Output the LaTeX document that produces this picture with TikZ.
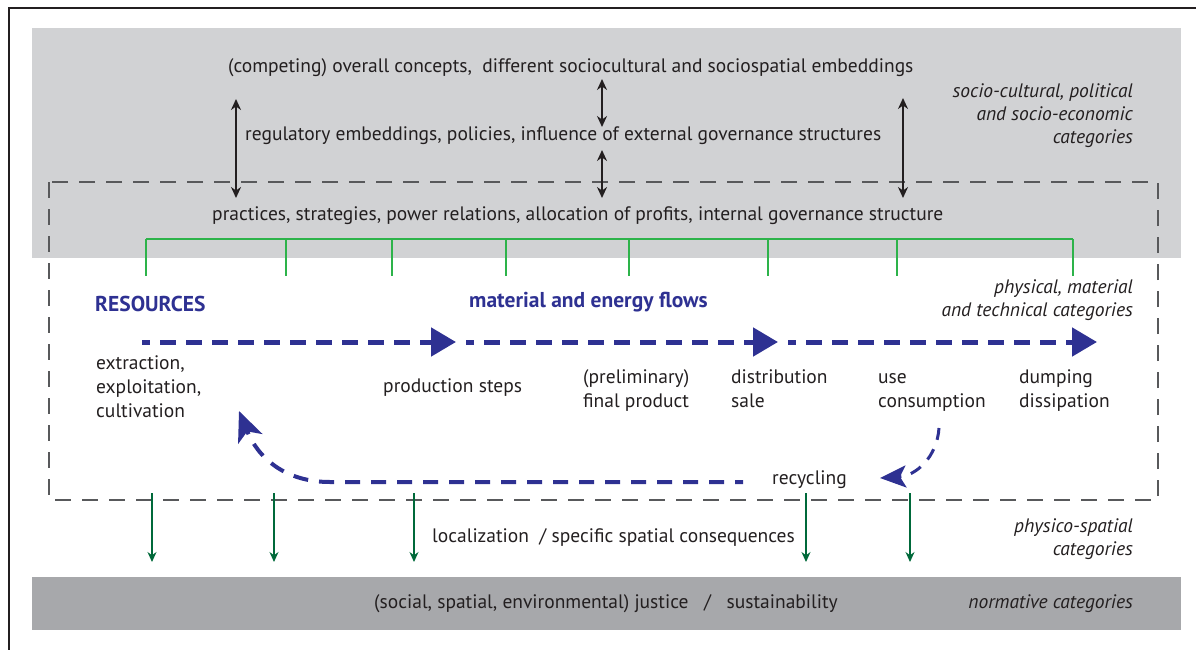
\documentclass[tikz,border=0pt]{standalone}
\usepackage{fontspec}
\setmainfont{PT Sans}
\usetikzlibrary{arrows.meta, positioning, calc}
\definecolor{bandtop}{HTML}{D1D2D4}
\definecolor{bandbot}{HTML}{A7A8AB}
\definecolor{flowblue}{HTML}{2E3192}
\definecolor{treegreen}{HTML}{2DB34A}
\definecolor{downgreen}{HTML}{00693A}
\definecolor{boxgray}{HTML}{58595B}
\definecolor{ink}{HTML}{231F20}

\begin{document}
\begin{tikzpicture}[x=1pt, y=-1pt, >=Stealth,
    every node/.style={inner sep=0pt, text=ink, font=\fontsize{19.5}{24}\selectfont},
    cat/.style={anchor=base east, align=right, font=\fontsize{19.5}{23}\selectfont\itshape},
    stage/.style={anchor=base west, align=left},
    head/.style={anchor=base west, text=flowblue, font=\fontsize{21.5}{24}\selectfont\bfseries},
    dblarrow/.style={line width=2.2pt, ink, {Stealth[length=11pt,width=10pt]}-{Stealth[length=11pt,width=10pt]}},
    flowline/.style={flowblue, line width=5pt, dash pattern=on 16pt off 10pt, dash phase=8pt, -{Triangle[length=25pt,width=28pt]}},
    backline/.style={flowblue, line width=4pt, dash pattern=on 15pt off 11pt, dash phase=7pt, -{Stealth[length=30pt,width=26pt,inset=8pt]}},
    ticklines/.style={treegreen, line width=1.2pt},
    downarrow/.style={downgreen, line width=1.2pt, -{Stealth[length=10pt,width=9pt]}},
  ]
    \useasboundingbox (0,0) rectangle (1196,650);

    % Bands and frame
    \fill[bandtop] (32,28) rectangle (1181,258);
    \fill[bandbot] (32,577) rectangle (1181,630);
    \draw[ink, line width=1.2pt] (9,650) -- (9,8) -- (1200,8);
    \draw[boxgray, line width=2.2pt, dash pattern=on 16pt off 11pt] (49,182) rectangle (1158,500);

    % Upper texts
    \node[stage] (concepts) at (228,73) {(competing) overall concepts,\ \ different sociocultural and sociospatial embeddings};
    \node[stage] (regul) at (245,141) {regulatory embeddings, policies, influence of external governance structures};
    \node[stage] (practices) at (212,220) {practices, strategies, power relations, allocation of profits, internal governance structure};
    \node[cat] (sociocat) at (1133,143) {socio-cultural, political\\and socio-economic\\categories};

    % Double arrows
    \coordinate (la1) at (236,99);  \coordinate (la2) at (236,198);
    \coordinate (ma1) at (602,79);  \coordinate (ma2) at (602,127);
    \coordinate (mb1) at (602,150); \coordinate (mb2) at (602,198);
    \coordinate (ra1) at (903,98);  \coordinate (ra2) at (903,198);
    \draw[dblarrow] (la1) -- (la2);
    \draw[dblarrow] (ma1) -- (ma2);
    \draw[dblarrow] (mb1) -- (mb2);
    \draw[dblarrow] (ra1) -- (ra2);

    % Green bracket
    \draw[ticklines] (146,239) -- (1073,239);
    \foreach \x in {146,286,392,506,629,768,897,1073}
        \draw[ticklines] (\x,239) -- (\x,276);

    % Flow headings
    \node[head] (resources) at (95,311) {RESOURCES};
    \node[head] (flows) at (469,307) {material and energy flows};
    \node[cat] (physcat) at (1133,316) {physical, material\\and technical categories};

    % Flow line
    \coordinate (f0) at (142,342);
    \coordinate (f1) at (456,342);
    \coordinate (f2) at (466,342);
    \coordinate (f3) at (778,342);
    \coordinate (f4) at (788,342);
    \coordinate (f5) at (1097,342);
    \draw[flowline] (f0) -- (f1);
    \draw[flowline] (f2) -- (f3);
    \draw[flowline] (f4) -- (f5);

    % Stages
    \node[stage] (extract) at (96,417) {extraction,\\exploitation,\\cultivation};
    \node[stage] (prod) at (383,392) {production steps};
    \node[stage] (final) at (583,407) {(preliminary)\\final product};
    \node[stage] (distrib) at (731,407) {distribution\\sale};
    \node[stage] (use) at (878,407) {use\\consumption};
    \node[stage] (dump) at (1019,407) {dumping\\dissipation};
    \node[stage] (recyc) at (772,484) {recycling};

    % Recycling loop
    \coordinate (u0) at (939,428);
    \coordinate (u1) at (880,478);
    \draw[flowblue, line width=3pt, dash pattern=on 12pt off 10pt, -{Stealth[length=26pt,width=22pt,inset=6pt]}]
        (u0) .. controls (937,458) and (915,476) .. (u1);
    \coordinate (b0) at (743,482);
    \coordinate (b1) at (330,482);
    \coordinate (b2) at (239,411);
    \draw[backline] (b0) -- (b1) .. controls (285,482) and (258,458) .. (b2);

    % Spatial consequences
    \foreach \x in {152,274,414,806,910}
        \draw[downarrow] (\x,493) -- (\x,562);
    \node[stage] (local) at (432,542) {localization\ \ / specific spatial consequences};
    \node[cat] (spatcat) at (1133,555) {physico-spatial\\categories};

    % Normative band
    \node[anchor=base] (justice) at (606,608) {(social, spatial, environmental) justice\ \ \ /\ \ \ sustainability};
    \node[cat] (normcat) at (1133,608) {normative categories};
\end{tikzpicture}
\end{document}
